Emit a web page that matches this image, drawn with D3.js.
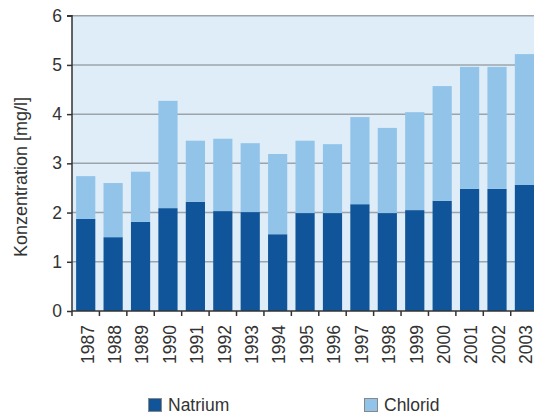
<!DOCTYPE html>
<html><head><meta charset="utf-8">
<script src="https://cdn.jsdelivr.net/npm/d3@7"></script>
<style>body{margin:0;background:#fff}svg{display:block}text{font-family:"Liberation Sans",Arial,sans-serif;fill:#333}</style>
</head><body><svg id="c" width="534" height="417"></svg>
<script>
const years = ["1987","1988","1989","1990","1991","1992","1993","1994","1995","1996","1997","1998","1999","2000","2001","2002","2003"];
const natrium = [1.87,1.50,1.81,2.09,2.22,2.03,2.01,1.56,1.99,1.99,2.17,1.99,2.05,2.24,2.48,2.48,2.56];
const chlorid = [0.87,1.10,1.02,2.18,1.24,1.47,1.40,1.63,1.47,1.40,1.77,1.73,1.99,2.33,2.48,2.48,2.66];
const yTicks = [0,1,2,3,4,5,6];
const seriesNames = ["Natrium","Chlorid"];
const colors = ["#10559a","#92c4ea"];

const svg = d3.select("#c");
const x0 = 72, step = 27.42;
const x = d3.scaleBand().domain(years).range([x0, x0 + step*years.length]).paddingInner(0.3).paddingOuter(0.15);
const y = d3.scaleLinear().domain([0,6]).range([311, 15.7]);

// background
svg.append("rect").attr("x", x0).attr("y", y(6)).attr("width", step*years.length).attr("height", y(0)-y(6)).attr("fill", "#deedf8");

// grid
svg.append("g").selectAll("line").data(yTicks.filter(d=>d>0)).join("line")
  .attr("x1", x0).attr("x2", x0+step*years.length)
  .attr("y1", d=>y(d)).attr("y2", d=>y(d))
  .attr("stroke", "#9ba4ad").attr("stroke-width", 1.5);

// stacked bars
const table = years.map((yr,i)=>({year:yr, Natrium:natrium[i], Chlorid:chlorid[i]}));
const stack = d3.stack().keys(seriesNames)(table);
svg.append("g").selectAll("g").data(stack).join("g").attr("fill",(d,i)=>colors[i])
  .selectAll("rect").data(d=>d).join("rect")
  .attr("x", d=>x(d.data.year)).attr("width", x.bandwidth())
  .attr("y", d=>y(d[1])).attr("height", d=>y(d[0])-y(d[1]));

// y axis
const ya = svg.append("g").attr("transform",`translate(${x0},0)`)
  .call(d3.axisLeft(y).tickValues(yTicks).tickSize(5).tickPadding(5).tickFormat(d3.format("d")));
ya.select(".domain").attr("stroke","#333").attr("stroke-width",1.5).attr("d",`M-5,${y(6)}H0V${y(0)}`);
ya.selectAll(".tick line").attr("stroke","#333").attr("stroke-width",1.5);
ya.selectAll(".tick text").attr("font-size",17.5).attr("fill","#333").attr("font-family","Liberation Sans, Arial, sans-serif");

// x axis
const xa = svg.append("g").attr("transform",`translate(0,${y(0)})`);
xa.append("line").attr("x1",x0).attr("x2",x0+step*years.length).attr("stroke","#333").attr("stroke-width",1.5);
xa.selectAll("line.t").data(d3.range(years.length+1)).join("line").attr("class","t")
  .attr("x1",i=>x0+i*step).attr("x2",i=>x0+i*step).attr("y1",0).attr("y2",5)
  .attr("stroke","#333").attr("stroke-width",1.5);
xa.selectAll("text").data(years).join("text")
  .attr("transform", d=>`translate(${x(d)+x.bandwidth()/2+1.5},14) rotate(-90)`)
  .attr("text-anchor","end").attr("dy","0.36em").attr("font-size",17.5).text(d=>d);

// y label
svg.append("text").attr("transform","translate(21,177) rotate(-90)").attr("text-anchor","middle")
  .attr("dy","0.36em").attr("font-size",18).text("Konzentration [mg/l]");

// legend
const lx = [148, 364];
const lg = svg.append("g").selectAll("g").data(seriesNames).join("g")
  .attr("transform",(d,i)=>`translate(${lx[i]},398)`);
lg.append("rect").attr("width",13).attr("height",13).attr("x",0.5).attr("y",0.5)
  .attr("fill",(d,i)=>colors[i]).attr("stroke","#888").attr("stroke-width",1);
lg.append("text").attr("x",20).attr("y",7).attr("dy","0.36em").attr("font-size",17.5).text(d=>d);
</script></body></html>
